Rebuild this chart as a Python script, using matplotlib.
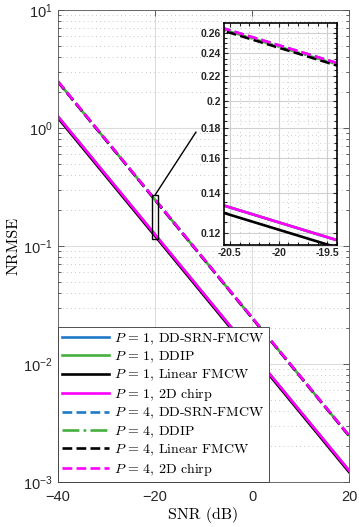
import matplotlib
matplotlib.use("Agg")
import matplotlib.pyplot as plt
import matplotlib.ticker as mticker
from matplotlib.patches import Rectangle
import numpy as np

plt.rcParams['font.family'] = ['Liberation Sans', 'DejaVu Sans']
plt.rcParams['mathtext.fontset'] = 'cm'

## Dados
snr = [-40, -30, -21, -20, -19, -10, 0, 10, 20]

p1_ddsrn = [1.250, 0.3953, 0.1403, 0.1250, 0.1114, 0.03953, 0.01250, 0.003953, 0.001250]
p1_ddip = [1.250, 0.3953, 0.1403, 0.1250, 0.1114, 0.03953, 0.01250, 0.003953, 0.001250]
p1_linear = [1.215, 0.3842, 0.1363, 0.1215, 0.1083, 0.03842, 0.01215, 0.003842, 0.001215]
p1_2d = [1.250, 0.3953, 0.1403, 0.1250, 0.1114, 0.03953, 0.01250, 0.003953, 0.001250]

p4_ddsrn = [2.478, 0.7836, 0.2780, 0.2478, 0.2209, 0.07836, 0.02478, 0.007836, 0.002478]
p4_ddip = [2.465, 0.7795, 0.2766, 0.2465, 0.2197, 0.07795, 0.02465, 0.007795, 0.002465]
p4_linear = [2.455, 0.7763, 0.2755, 0.2455, 0.2188, 0.07763, 0.02455, 0.007763, 0.002455]
p4_2d = [2.478, 0.7836, 0.2780, 0.2478, 0.2209, 0.07836, 0.02478, 0.007836, 0.002478]

labels = [r'$P\,=\,1$, DD-SRN-FMCW', r'$P\,=\,1$, DDIP', r'$P\,=\,1$, Linear FMCW', r'$P\,=\,1$, 2D chirp',
          r'$P\,=\,4$, DD-SRN-FMCW', r'$P\,=\,4$, DDIP', r'$P\,=\,4$, Linear FMCW', r'$P\,=\,4$, 2D chirp']
series = [p1_ddsrn, p1_ddip, p1_linear, p1_2d, p4_ddsrn, p4_ddip, p4_linear, p4_2d]

azul, verde, preto, magenta = '#1f78c8', '#45b03f', '#000000', '#ff00ff'
cores = [azul, verde, preto, magenta, azul, verde, preto, magenta]
estilos = ['-', '-', '-', '-', '--', '-.', '--', '--']

inset_xlim = (-20.56, -19.45)
inset_ylim = (0.1145, 0.27)

tick_cor = '#262626'

fig = plt.figure(figsize=(3.59, 5.27), dpi=100)
ax = fig.add_axes([0.1616, 0.0854, 0.8106, 0.8956])

for y, c, ls, lb in zip(series, cores, estilos, labels):
    ax.plot(snr, y, color=c, linestyle=ls, linewidth=1.9, label=lb)

ax.set_yscale('log')
ax.set_xlim(-40, 20)
ax.set_ylim(1e-3, 10)
ax.set_xticks([-40, -20, 0, 20])
ax.yaxis.set_minor_locator(mticker.LogLocator(base=10, subs=np.arange(2, 10)))
ax.yaxis.set_minor_formatter(mticker.NullFormatter())
ax.grid(True, which='major', color='#dcdcdc', linewidth=0.8, linestyle='-')
ax.grid(True, which='minor', axis='y', color='#b5b5b5', linewidth=0.6, linestyle=(0, (1, 4)))
ax.tick_params(which='both', direction='in', top=True, right=True, colors=tick_cor,
               labelsize=10.5, width=0.5)
ax.tick_params(axis='x', pad=6)
ax.tick_params(axis='y', pad=4)
ax.tick_params(which='major', length=4)
ax.tick_params(which='minor', length=2)
for s in ax.spines.values():
    s.set_color('#555555')
    s.set_linewidth(0.6)

ax.set_xlabel('SNR (dB)', family='cmr10', fontsize=11.5, labelpad=2)
ax.set_ylabel('NRMSE', family='cmr10', fontsize=11.5, labelpad=2)

leg = ax.legend(loc='lower left', bbox_to_anchor=(0, 0), borderaxespad=0,
                prop={'family': 'cmr10', 'size': 10}, handlelength=3.4,
                handletextpad=0.35, labelspacing=0.22, borderpad=0.3,
                fancybox=False, framealpha=1, edgecolor='#333333')
leg.get_frame().set_linewidth(0.6)

## Retangulo de zoom e linha de ligacao
ax.add_patch(Rectangle((inset_xlim[0], inset_ylim[0]), inset_xlim[1] - inset_xlim[0],
                       inset_ylim[1] - inset_ylim[0], fill=False, edgecolor='black',
                       linewidth=1.0, zorder=5))
ax.annotate('', xy=(-20, inset_ylim[1]), xytext=(-11.55, 0.925),
            arrowprops=dict(arrowstyle='-', color='black', linewidth=1.0, shrinkA=0, shrinkB=0))

## Inset
axi = fig.add_axes([0.624, 0.5351, 0.3148, 0.4213])
for y, c, ls in zip(series, cores, estilos):
    axi.plot(snr, y, color=c, linestyle=ls, linewidth=1.9)
axi.set_yscale('log')
axi.set_xlim(*inset_xlim)
axi.set_ylim(*inset_ylim)
axi.set_xticks([-20.5, -20, -19.5])
axi.xaxis.set_major_formatter(mticker.FuncFormatter(lambda v, p: f'{v:g}'))
axi.set_xticks(np.arange(-20.5, -19.4, 0.1), minor=True)
axi.set_yticks([0.12, 0.14, 0.16, 0.18, 0.2, 0.22, 0.24, 0.26])
axi.yaxis.set_major_formatter(mticker.FuncFormatter(lambda v, p: f'{v:g}'))
axi.set_yticks([0.115, 0.125, 0.135, 0.145, 0.155, 0.165, 0.175, 0.185, 0.195, 0.205,
                0.215, 0.225, 0.235, 0.245, 0.255, 0.265,
                0.13, 0.15, 0.17, 0.19, 0.21, 0.23, 0.25], minor=True)
axi.yaxis.set_minor_formatter(mticker.NullFormatter())
axi.grid(True, which='major', color='#d0d0d0', linewidth=0.8, linestyle='-')
axi.grid(True, which='minor', color='#bdbdbd', linewidth=0.6, linestyle=(0, (1, 4)))
axi.tick_params(which='both', direction='in', top=True, right=True, colors=tick_cor,
                labelsize=7.5, width=0.8, pad=2)
axi.tick_params(which='major', length=3)
axi.tick_params(which='minor', length=2)
for t in axi.get_xticklabels() + axi.get_yticklabels():
    t.set_fontweight('bold')
for s in axi.spines.values():
    s.set_color('black')
    s.set_linewidth(1.2)

fig.savefig('out.png', dpi=100)
